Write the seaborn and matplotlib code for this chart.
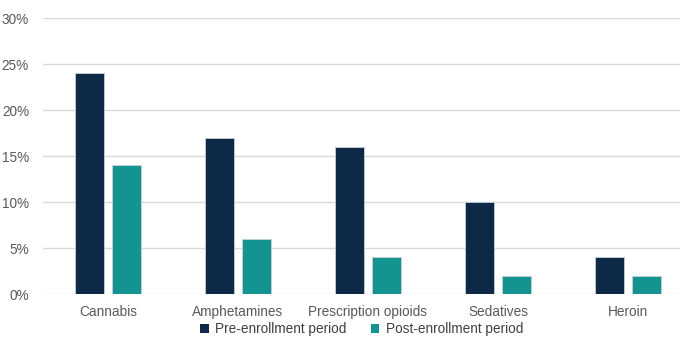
import matplotlib
matplotlib.use("Agg")
import matplotlib.pyplot as plt
import seaborn as sns
import pandas as pd
from matplotlib.patches import Patch
from matplotlib.ticker import FuncFormatter

categories = ["Cannabis", "Amphetamines", "Prescription opioids", "Sedatives", "Heroin"]
pre_enrollment = [24, 17, 16, 10, 4]
post_enrollment = [14, 6, 4, 2, 2]
series_names = ["Pre-enrollment period", "Post-enrollment period"]
y_ticks = [0, 5, 10, 15, 20, 25, 30]
colors = ["#0e2947", "#149490"]

df = pd.DataFrame({
    "category": categories * 2,
    "value": pre_enrollment + post_enrollment,
    "period": [series_names[0]] * len(categories) + [series_names[1]] * len(categories),
})

sns.set_theme(style="white")
plt.rcParams["font.family"] = ["Liberation Sans", "DejaVu Sans"]

fig = plt.figure(figsize=(6.89, 3.41), dpi=100)
ax = fig.add_axes([43 / 689, 47 / 341, 637 / 689, 276 / 341])

sns.barplot(data=df, x="category", y="value", hue="period", order=categories,
            hue_order=series_names, palette=colors, saturation=1, width=0.57, gap=0.22,
            edgecolor="#c8d0d8", linewidth=0.6, ax=ax, legend=False, zorder=3)

ax.set_xlim(-0.5, 4.4)
ax.set_ylim(0, 30)
ax.set_yticks(y_ticks)
ax.yaxis.set_major_formatter(FuncFormatter(lambda v, _: f"{v:.0f}%"))
ax.yaxis.grid(True, color="#d9d9d9", linewidth=1.0, zorder=0)
ax.set_axisbelow(True)
for s in ax.spines.values():
    s.set_visible(False)
ax.set_xlabel("")
ax.set_ylabel("")
ax.tick_params(axis="both", length=0, labelsize=9.8, labelcolor="#595959")
ax.tick_params(axis="x", pad=8)
ax.tick_params(axis="y", pad=10)

handles = [Patch(facecolor=c, edgecolor="none") for c in colors]
fig.legend(handles, series_names, loc="center", bbox_to_anchor=(362 / 689, 1 - 329 / 341),
           ncol=2, frameon=False, fontsize=9.8, labelcolor="#404040",
           handlelength=0.6, handleheight=0.6, handletextpad=0.5, columnspacing=1.8)

fig.savefig("out.png", dpi=100)
